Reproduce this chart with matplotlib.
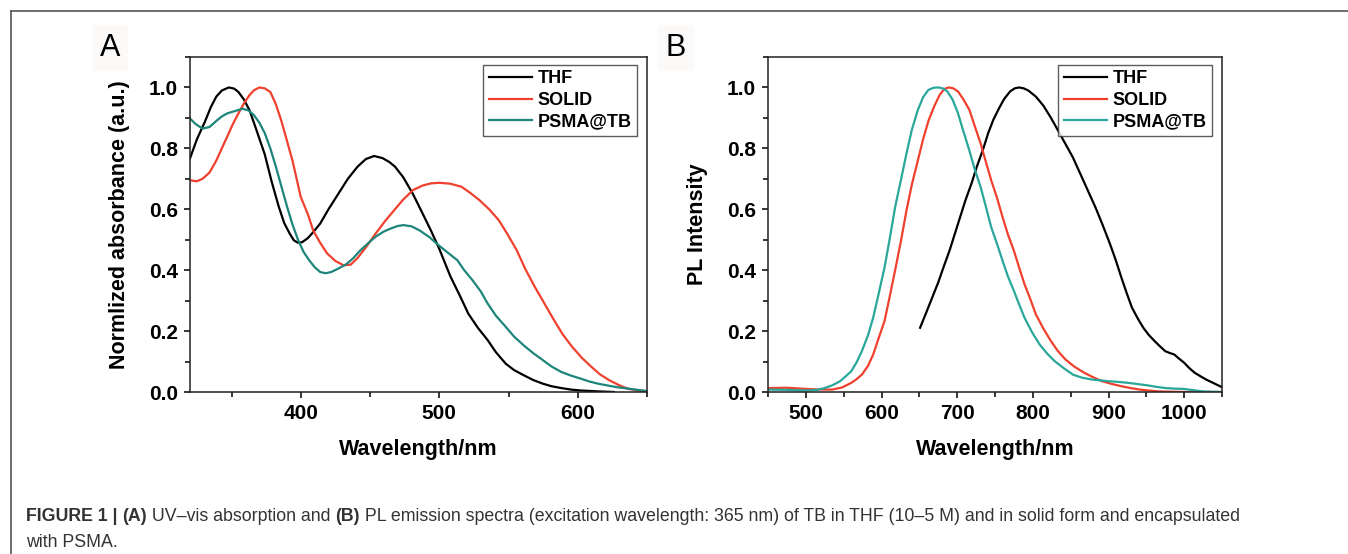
import matplotlib
matplotlib.use("Agg")
import matplotlib.pyplot as plt
from matplotlib.ticker import MultipleLocator
from matplotlib.lines import Line2D

plt.rcParams['font.family'] = ['Liberation Sans', 'DejaVu Sans']

# ---- Panel A: UV-vis absorption (nm, normalized absorbance)
a_thf_x = [320, 325, 331, 335, 339, 343, 348, 352, 355, 359, 363, 368, 374, 379, 384, 388,
           392, 395, 398, 401, 405, 409, 414, 420, 427, 434, 441, 447, 453, 459, 464, 468,
           474, 481, 487, 494, 500, 508, 515, 521, 528, 535, 541, 548, 554, 561, 568, 575,
           581, 588, 595, 602, 615, 626]
a_thf_y = [0.767, 0.83, 0.89, 0.935, 0.97, 0.99, 1.0, 0.996, 0.985, 0.96, 0.925, 0.86, 0.78,
           0.69, 0.61, 0.555, 0.52, 0.498, 0.49, 0.492, 0.505, 0.525, 0.553, 0.60, 0.65,
           0.70, 0.74, 0.765, 0.775, 0.768, 0.755, 0.74, 0.705, 0.65, 0.595, 0.53, 0.47,
           0.38, 0.315, 0.257, 0.21, 0.17, 0.13, 0.093, 0.072, 0.055, 0.039, 0.027, 0.019,
           0.013, 0.008, 0.005, 0.002, 0.0]
a_solid_x = [320, 325, 329, 334, 339, 343, 347, 351, 355, 359, 363, 366, 370, 374, 378, 382,
             386, 390, 394, 397, 400, 405, 409, 414, 419, 425, 431, 436, 441, 447, 454, 461,
             468, 474, 481, 488, 494, 500, 508, 516, 522, 529, 536, 543, 549, 556, 562, 569,
             576, 583, 589, 596, 603, 610, 616, 623, 630, 636, 643, 650]
a_solid_y = [0.695, 0.692, 0.70, 0.72, 0.76, 0.80, 0.84, 0.88, 0.915, 0.948, 0.975, 0.99,
             1.0, 0.997, 0.985, 0.945, 0.89, 0.825, 0.76, 0.70, 0.64, 0.585, 0.53, 0.49,
             0.455, 0.43, 0.416, 0.418, 0.44, 0.475, 0.52, 0.562, 0.60, 0.632, 0.663, 0.678,
             0.685, 0.687, 0.684, 0.674, 0.655, 0.63, 0.6, 0.564, 0.52, 0.465, 0.405, 0.345,
             0.29, 0.235, 0.19, 0.148, 0.112, 0.082, 0.058, 0.038, 0.022, 0.011, 0.005, 0.002]
a_psma_x = [320, 324, 329, 334, 339, 343, 347, 352, 358, 362, 366, 370, 374, 378, 382, 386,
            390, 394, 398, 402, 406, 410, 414, 418, 422, 427, 433, 438, 443, 449, 454, 460,
            465, 470, 474, 480, 486, 493, 500, 506, 513, 518, 524, 530, 535, 541, 548, 554,
            561, 568, 575, 581, 588, 595, 602, 608, 615, 622, 628, 640, 650]
a_psma_y = [0.898, 0.88, 0.865, 0.87, 0.89, 0.905, 0.915, 0.922, 0.93, 0.925, 0.91, 0.885,
            0.85, 0.8, 0.74, 0.675, 0.61, 0.55, 0.50, 0.46, 0.433, 0.41, 0.394, 0.39, 0.394,
            0.405, 0.42, 0.44, 0.465, 0.49, 0.51, 0.527, 0.537, 0.545, 0.548, 0.544, 0.53,
            0.508, 0.48, 0.458, 0.433, 0.40, 0.367, 0.33, 0.29, 0.25, 0.214, 0.182, 0.153,
            0.127, 0.104, 0.084, 0.066, 0.054, 0.044, 0.035, 0.027, 0.021, 0.016, 0.009, 0.003]

# ---- Panel B: PL emission (nm, normalized intensity)
b_thf_x = [651, 659, 667, 675, 682, 690, 697, 704, 711, 719, 726, 734, 741, 748, 755, 762,
           770, 776, 782, 788, 794, 804, 814, 824, 833, 843, 853, 863, 873, 883, 892, 902,
           910, 917, 924, 931, 939, 946, 953, 961, 968, 975, 981, 987, 993, 1000, 1007, 1014,
           1022, 1029, 1039, 1049]
b_thf_y = [0.211, 0.26, 0.31, 0.36, 0.41, 0.465, 0.52, 0.575, 0.63, 0.685, 0.74, 0.795, 0.85,
           0.895, 0.93, 0.962, 0.987, 0.997, 1.0, 0.997, 0.99, 0.97, 0.94, 0.9, 0.86, 0.815,
           0.77, 0.715, 0.66, 0.605, 0.55, 0.486, 0.43, 0.376, 0.325, 0.277, 0.24, 0.211,
           0.188, 0.167, 0.15, 0.134, 0.128, 0.123, 0.11, 0.096, 0.078, 0.063, 0.051, 0.041,
           0.029, 0.017]
b_solid_x = [451, 475, 501, 520, 535, 548, 560, 567, 574, 582, 589, 596, 604, 611, 618, 626,
             633, 640, 648, 655, 662, 670, 677, 683, 689, 695, 701, 708, 716, 723, 731, 738,
             745, 753, 760, 767, 775, 782, 789, 797, 804, 814, 824, 833, 843, 855, 868, 880,
             892, 905, 917, 929, 941, 953, 966, 1000, 1050]
b_solid_y = [0.013, 0.014, 0.01, 0.008, 0.008, 0.015, 0.03, 0.042, 0.057, 0.085, 0.123, 0.175,
             0.233, 0.315, 0.40, 0.5, 0.596, 0.68, 0.76, 0.83, 0.89, 0.94, 0.976, 0.995, 1.0,
             0.997, 0.987, 0.962, 0.927, 0.875, 0.816, 0.755, 0.695, 0.635, 0.574, 0.518,
             0.464, 0.408, 0.354, 0.303, 0.255, 0.208, 0.167, 0.135, 0.107, 0.083, 0.063, 0.048,
             0.035, 0.026, 0.019, 0.013, 0.008, 0.005, 0.002, 0.0, 0.0]
b_psma_x = [451, 475, 501, 515, 525, 535, 545, 552, 560, 567, 574, 582, 589, 596, 604, 611,
            618, 626, 633, 640, 648, 655, 662, 669, 675, 681, 687, 694, 701, 708, 716, 723,
            731, 738, 745, 753, 760, 767, 775, 782, 789, 799, 809, 819, 829, 841, 853, 865,
            878, 890, 902, 914, 926, 939, 951, 963, 975, 988, 1000, 1012, 1024, 1036, 1049]
b_psma_y = [0.008, 0.007, 0.005, 0.007, 0.013, 0.022, 0.035, 0.05, 0.068, 0.097, 0.134, 0.185,
            0.244, 0.32, 0.409, 0.505, 0.607, 0.7, 0.783, 0.86, 0.926, 0.968, 0.992, 0.999,
            1.0, 0.997, 0.987, 0.96, 0.916, 0.858, 0.794, 0.733, 0.673, 0.608, 0.541, 0.484,
            0.431, 0.38, 0.332, 0.287, 0.244, 0.196, 0.156, 0.126, 0.101, 0.078, 0.057, 0.047,
            0.041, 0.038, 0.035, 0.033, 0.03, 0.026, 0.022, 0.017, 0.013, 0.011, 0.01, 0.006,
            0.002, 0.001, 0.0]

labels = ['THF', 'SOLID', 'PSMA@TB']
red = '#f0402e'
teal_a = '#1d857a'
teal_b = '#2aa79b'

fig = plt.figure(figsize=(13.48, 5.54), dpi=100)

# outer frame (only top and left visible)
fig.add_artist(Line2D([10.5/1348, 10.5/1348], [0, 1 - 10.5/554], transform=fig.transFigure,
                      color='#555555', lw=1.2))
fig.add_artist(Line2D([10.5/1348, 1], [1 - 10.5/554, 1 - 10.5/554], transform=fig.transFigure,
                      color='#555555', lw=1.2))

axA = fig.add_axes([190/1348, (554-392)/554, 457/1348, 335/554])
axB = fig.add_axes([768/1348, (554-392)/554, 454/1348, 335/554])

axA.plot(a_thf_x, a_thf_y, color='black', lw=1.6, label=labels[0])
axA.plot(a_solid_x, a_solid_y, color=red, lw=1.6, label=labels[1])
axA.plot(a_psma_x, a_psma_y, color=teal_a, lw=1.6, label=labels[2])

axB.plot(b_thf_x, b_thf_y, color='black', lw=1.6, label=labels[0])
axB.plot(b_solid_x, b_solid_y, color=red, lw=1.6, label=labels[1])
axB.plot(b_psma_x, b_psma_y, color=teal_b, lw=1.6, label=labels[2])

axA.set_xlim(320, 650)
axB.set_xlim(450, 1050)
axA.xaxis.set_major_locator(MultipleLocator(100))
axA.xaxis.set_minor_locator(MultipleLocator(50))
axB.xaxis.set_major_locator(MultipleLocator(100))
axB.xaxis.set_minor_locator(MultipleLocator(50))

for ax in (axA, axB):
    ax.set_ylim(0, 1.1)
    ax.yaxis.set_major_locator(MultipleLocator(0.2))
    ax.yaxis.set_minor_locator(MultipleLocator(0.1))
    ax.yaxis.set_major_formatter(plt.FormatStrFormatter('%.1f'))
    ax.tick_params(which='both', direction='out', top=False, right=False, width=1.1)
    ax.tick_params(which='major', length=4.5, labelsize=15, pad=4)
    ax.tick_params(which='minor', length=3.5)
    for lab in ax.get_xticklabels() + ax.get_yticklabels():
        lab.set_fontweight('bold')
    for sp in ax.spines.values():
        sp.set_linewidth(1.1)
        sp.set_color('#222222')
    ax.set_xlabel('Wavelength/nm', fontsize=15.5, fontweight='bold', labelpad=12)
    leg = ax.legend(loc='upper right', bbox_to_anchor=(0.978, 0.976), borderaxespad=0,
                    prop={'weight': 'bold', 'size': 13}, frameon=True, fancybox=False,
                    handlelength=2.4, handletextpad=0.3, labelspacing=0.25, borderpad=0.3)
    leg.get_frame().set_edgecolor('#333333')
    leg.get_frame().set_linewidth(1.0)
    for ln in leg.get_lines():
        ln.set_linewidth(1.6)

axA.set_ylabel('Normlized absorbance (a.u.)', fontsize=15.5, fontweight='bold', labelpad=14)
axB.set_ylabel('PL Intensity', fontsize=15.5, fontweight='bold', labelpad=14)

# panel letters
fig.text(110/1348, 1 - 48/554, 'A', fontsize=22, ha='center', va='center',
         bbox=dict(facecolor='#fcfaf8', edgecolor='none', pad=6))
fig.text(676/1348, 1 - 48/554, 'B', fontsize=22, ha='center', va='center',
         bbox=dict(facecolor='#fcfaf8', edgecolor='none', pad=6))

# caption with bold pieces
fig.canvas.draw()
renderer = fig.canvas.get_renderer()

def caption_line(pieces, x0, y0):
    x = x0
    for txt, bold in pieces:
        t = fig.text(x / 1348, 1 - y0 / 554, txt, fontsize=12.8, color='#333333',
                     fontweight='bold' if bold else 'normal', ha='left', va='baseline')
        bb = t.get_window_extent(renderer=renderer)
        x += bb.width

caption_line([('FIGURE 1 | ', True), ('(A)', True), (' UV\u2013vis absorption and ', False),
              ('(B)', True),
              (' PL emission spectra (excitation wavelength: 365 nm) of TB in THF (10\u20135 M) '
               'and in solid form and encapsulated', False)], 26, 521)
caption_line([('with PSMA.', False)], 26, 547)

fig.savefig('out.png', dpi=100)
